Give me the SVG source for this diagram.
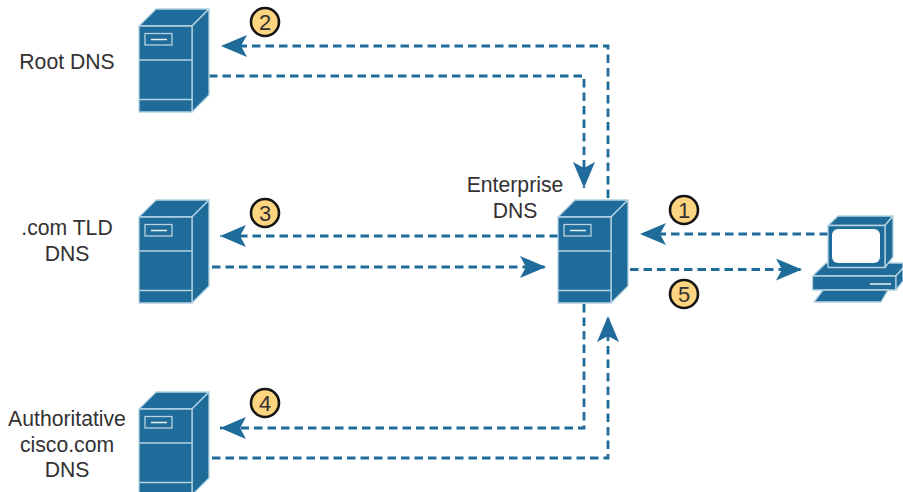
<svg xmlns="http://www.w3.org/2000/svg" width="903" height="492" viewBox="0 0 903 492">
<style>
.lbl{font-family:"Liberation Sans",Arial,sans-serif;font-size:21.200px;fill:#333132;text-anchor:middle}
.num{font-family:"Liberation Sans",Arial,sans-serif;font-size:22px;fill:#333132;text-anchor:middle}
.badge{fill:#fdd47f;stroke:#141414;stroke-width:2.6}
.conn{fill:none;stroke:#1f6b99;stroke-width:2.800;stroke-dasharray:8.500 5}
.body{fill:#1f6b99;stroke:#b5d3e2;stroke-width:1.3;stroke-linejoin:round}
.ln{fill:none;stroke:#b5d3e2;stroke-width:1.3}
.hl{fill:none;stroke:#e8f2f6;stroke-width:1.5}
</style>
<defs>
<marker id="ah" markerUnits="userSpaceOnUse" markerWidth="28" markerHeight="24" refX="26" refY="11" orient="auto">
<path d="M0 0L26 11L0 22L6 11Z" fill="#1f6b99"/>
</marker>
<g id="srv">
<path class="body" d="M139 26L156 9H209L192 26Z"/>
<path class="body" d="M192 26L209 9V95L192 112Z"/>
<rect class="body" x="139" y="26" width="53" height="86"/>
<path class="ln" d="M139 60H192M139 99.5H192"/>
<rect class="ln" x="145" y="33.5" width="27" height="11.5"/>
<path class="hl" d="M151 39.5H167"/>
</g>
</defs>
<g id="connectors">
<path class="conn" marker-end="url(#ah)" d="M608 198V46H221"/>
<path class="conn" marker-end="url(#ah)" d="M209 76H584V188"/>
<path class="conn" marker-end="url(#ah)" d="M558 236H220"/>
<path class="conn" marker-end="url(#ah)" d="M212 267H546"/>
<path class="conn" marker-end="url(#ah)" d="M584 304V428H220"/>
<path class="conn" marker-end="url(#ah)" d="M212 458H608V316"/>
<path class="conn" marker-end="url(#ah)" d="M828 234H640"/>
<path class="conn" marker-end="url(#ah)" d="M630 269.500H802"/>
</g>
<g id="root-dns"><use href="#srv"/><text class="lbl" x="67" y="69">Root DNS</text></g>
<g id="tld-dns"><use href="#srv" y="191"/><text class="lbl" x="67" y="235">.com TLD</text><text class="lbl" x="67" y="261">DNS</text></g>
<g id="auth-dns"><use href="#srv" y="383"/><text class="lbl" x="67" y="426">Authoritative</text><text class="lbl" x="67" y="452">cisco.com</text><text class="lbl" x="67" y="477">DNS</text></g>
<g id="enterprise-dns"><use href="#srv" x="419" y="191"/><text class="lbl" x="515" y="192">Enterprise</text><text class="lbl" x="515" y="218">DNS</text></g>
<g id="pc">
<path class="body" d="M826 263H903V268L896 276H812.500Z"/>
<rect class="body" x="812.500" y="276" width="83.500" height="14"/>
<path class="body" d="M896 276L903 268V281L896 290Z"/>
<path class="hl" d="M870 284H891"/>
<path class="body" d="M823 290H888L881 302H814Z"/>
<path class="body" d="M828 225.500L838 216H893L885 225.500Z"/>
<path class="body" d="M885 225.500L893 216V257L885 267.500Z"/>
<rect class="body" x="828" y="225.500" width="57" height="42"/>
<rect x="832" y="229" width="48" height="34" rx="6" fill="#fff"/>
</g>
<g id="step-1"><circle class="badge" cx="684" cy="210" r="14"/><text class="num" x="684" y="218">1</text></g>
<g id="step-2"><circle class="badge" cx="265" cy="22" r="14"/><text class="num" x="265" y="30">2</text></g>
<g id="step-3"><circle class="badge" cx="265" cy="213" r="14"/><text class="num" x="265" y="221">3</text></g>
<g id="step-4"><circle class="badge" cx="265" cy="403" r="14"/><text class="num" x="265" y="411">4</text></g>
<g id="step-5"><circle class="badge" cx="684" cy="302" r="0" style="display:none"/><circle class="badge" cx="684" cy="294" r="14"/><text class="num" x="684" y="302">5</text></g>
</svg>
